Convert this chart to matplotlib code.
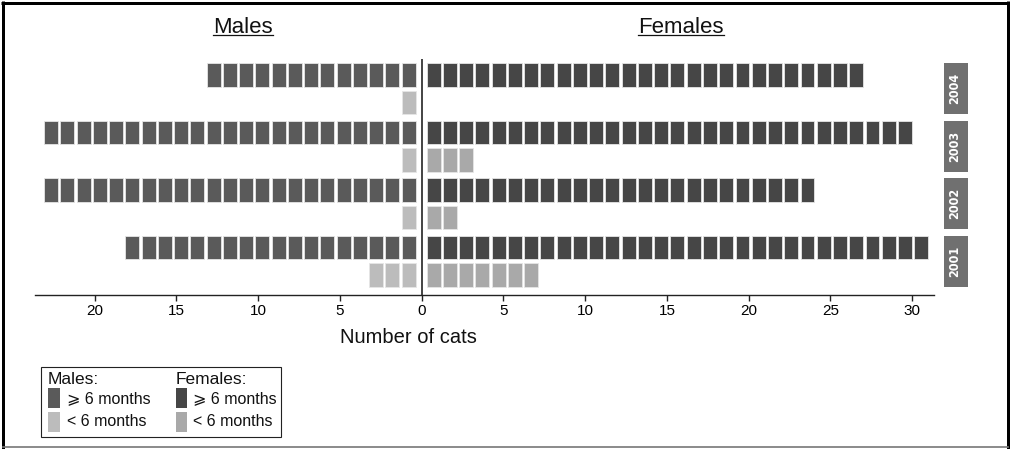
import numpy as np
import matplotlib.pyplot as plt
from matplotlib.patches import Rectangle

# counts of cats per year
years = [2001, 2002, 2003, 2004]
male_adult = [18, 23, 23, 13]
male_juv = [3, 1, 1, 1]
female_adult = [31, 24, 30, 27]
female_juv = [7, 2, 3, 0]

ticks = [-20, -15, -10, -5, 0, 5, 10, 15, 20, 25, 30]

col_m_adult = '#5a5a5a'
col_m_juv = '#bcbcbc'
col_f_adult = '#464646'
col_f_juv = '#a9a9a9'
col_strip = '#707070'

W, H = 1013, 449
plt.rcParams['font.family'] = ['Liberation Sans', 'DejaVu Sans']

fig = plt.figure(figsize=(W / 100, H / 100), dpi=100)


def px(x0, y0, x1, y1):
    # figure rect from pixel box (top-left origin)
    return [x0 / W, 1 - y1 / H, (x1 - x0) / W, (y1 - y0) / H]


ax = fig.add_axes(px(35, 59, 934, 295))
ax_s = fig.add_axes(px(944.3, 59, 967.7, 295), sharey=ax)

pitch = 0.994   # square spacing
sq_w = 0.85
sq_h = 0.857
gstep = 2.109   # vertical step between years


def squares(n, y, side, color):
    if n == 0:
        return
    k = np.arange(n)
    if side > 0:
        xs = 0.73 + k * pitch
    else:
        xs = -(0.80 + k * pitch)
    ax.bar(xs, sq_h, width=sq_w, bottom=y - sq_h / 2, color=color,
           edgecolor='#e6e6e6', linewidth=0.6)


for i, yr in enumerate(years):
    base = i * gstep
    squares(male_adult[i], base + 1, -1, col_m_adult)
    squares(male_juv[i], base, -1, col_m_juv)
    squares(female_adult[i], base + 1, 1, col_f_adult)
    squares(female_juv[i], base, 1, col_f_juv)

    ax_s.add_patch(Rectangle((0, base - sq_h / 2), 1, 1 + sq_h,
                             facecolor=col_strip, edgecolor='none'))
    ax_s.text(0.45, base + 0.5, str(yr), rotation=90, ha='center', va='center',
              color='white', fontsize=9, fontweight='bold',
              family='DejaVu Sans', fontstretch='condensed')

ax.axvline(0, color='#111111', lw=1.1)
ax.set_xlim(-23.65, 31.33)
ax.set_ylim(-0.733, 3 * gstep + 1 + 0.586)
ax.set_xticks(ticks)
ax.set_xticklabels([str(abs(t)) for t in ticks])
ax.tick_params(axis='x', length=4, width=1, color='#222222', pad=2.5,
               labelsize=11)
ax.set_yticks([])
for s in ['top', 'left', 'right']:
    ax.spines[s].set_visible(False)
ax.spines['bottom'].set_color('#222222')
ax.spines['bottom'].set_linewidth(1)
ax.patch.set_alpha(0)

ax_s.set_xlim(0, 1)
ax_s.axis('off')

# overlay in pixel coordinates for titles, legend and frame
ov = fig.add_axes([0, 0, 1, 1], zorder=-1)
ov.set_xlim(0, W)
ov.set_ylim(H, 0)
ov.axis('off')

for label, cx in [('Males', 243), ('Females', 681)]:
    t = ov.text(cx, 32.7, label, ha='center', va='baseline', fontsize=16,
                color='#111111')
fig.canvas.draw()
r = fig.canvas.get_renderer()
for t in ov.texts:
    bb = t.get_window_extent(r)
    ov.plot([bb.x0, bb.x1], [34.8, 34.8], color='#111111', lw=0.9)

ov.text(408, 342.7, 'Number of cats', ha='center', va='baseline',
        fontsize=14.5, color='#111111')

# legend box
ov.add_patch(Rectangle((40.7, 366.7), 240.3, 70, facecolor='white',
                       edgecolor='#222222', lw=0.8))
ov.text(48, 384.3, 'Males:', fontsize=12.5, va='baseline', color='#111111')
ov.text(175.7, 384.3, 'Females:', fontsize=12.5, va='baseline', color='#111111')
for x0, x1, tx, cols in [(48.3, 60, 66.7, (col_m_adult, col_m_juv)),
                         (175.7, 186.7, 193.3, (col_f_adult, col_f_juv))]:
    ov.add_patch(Rectangle((x0, 388.3), x1 - x0, 20, facecolor=cols[0],
                           edgecolor='none'))
    ov.add_patch(Rectangle((x0, 411.7), x1 - x0, 20, facecolor=cols[1],
                           edgecolor='none'))
    ov.text(tx, 398.5, '\u2a7e 6 months', fontsize=11.5, va='center',
            color='#111111')
    ov.text(tx, 421.7, '< 6 months', fontsize=11.5, va='center',
            color='#111111')

# outer frame
lw3 = 3 * 0.72
ov.plot([2.5, 2.5], [1, H], color='black', lw=lw3, solid_capstyle='butt')
ov.plot([1, 1009], [2.5, 2.5], color='black', lw=lw3, solid_capstyle='butt')
ov.plot([1007.5, 1007.5], [1, H], color='black', lw=lw3, solid_capstyle='butt')
ov.plot([2.5, 1007.5], [447, 447], color='#777777', lw=1.2)

fig.savefig('out.png', dpi=100)
